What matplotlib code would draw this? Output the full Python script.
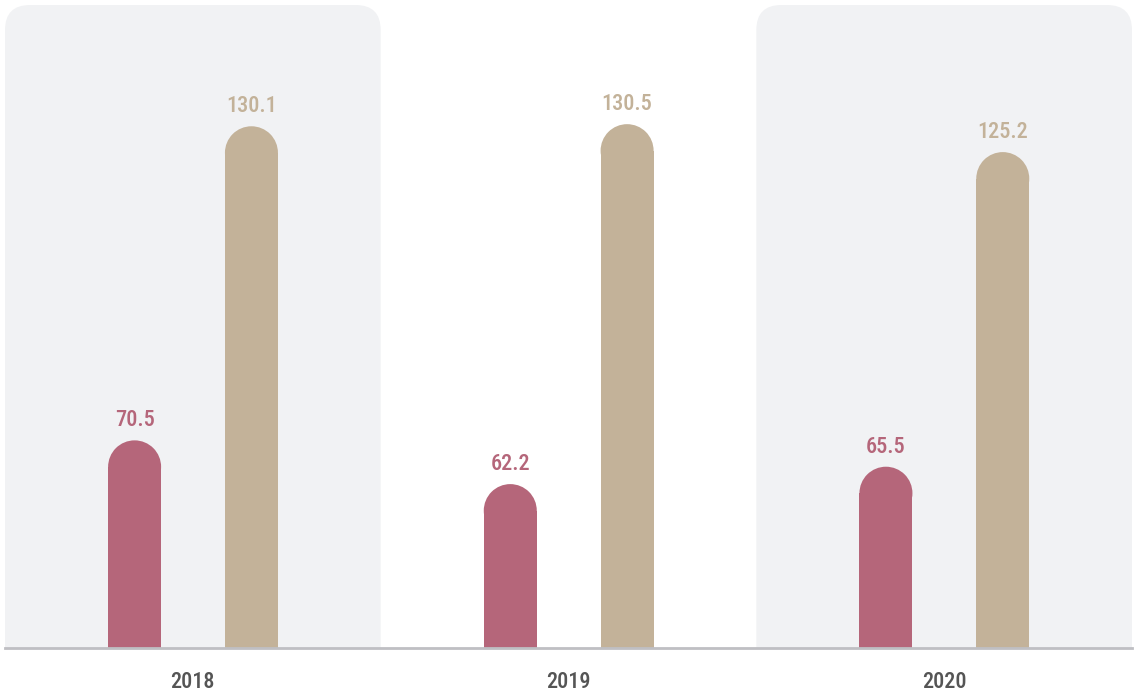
import matplotlib
matplotlib.use("Agg")
import matplotlib.pyplot as plt
import numpy as np
from matplotlib.patches import FancyBboxPatch, Ellipse

# data
years = ["2018", "2019", "2020"]
series_a = [70.5, 62.2, 65.5]
series_b = [130.1, 130.5, 125.2]

pink = "#B5667A"
tan = "#C3B299"
panel = "#F1F2F4"
fonts = ["Roboto Condensed", "DejaVu Sans"]

W, H = 1134, 697
fig = plt.figure(figsize=(W / 100, H / 100), dpi=100)
left, right, top, bottom = 5, 1132, 5, 648
ax = fig.add_axes([left / W, 1 - bottom / H, (right - left) / W, (bottom - top) / H])

y0 = min(series_a) / 2
px_per_unit = 5.27
y1 = y0 + (bottom - top) / px_per_unit
ax.set_xlim(0, 3)
ax.set_ylim(y0, y1)

xpx = (right - left) / 3.0          # pixels per x unit
aspect = (1 / px_per_unit) / (1 / xpx)

# shaded panels behind 2018 and 2020
for i in (0, 2):
    p = FancyBboxPatch((i, y0 - 30), 1, (y1 - y0) + 30,
                       boxstyle="round,pad=0,rounding_size=%f" % (25 / xpx),
                       mutation_aspect=aspect, fc=panel, ec="none", zorder=0)
    ax.add_patch(p)

bw = 53 / xpx
ry = (bw / 2) * xpx / px_per_unit   # cap radius in y units
xs = np.arange(3)
off_a, off_b = 0.345, 0.656

for vals, off, col in ((series_a, off_a, pink), (series_b, off_b, tan)):
    xc = xs + off
    ax.bar(xc, np.array(vals) - ry - y0, bottom=y0, width=bw, color=col,
           zorder=2, linewidth=0)
    for x, v in zip(xc, vals):
        ax.add_patch(Ellipse((x, v - ry), bw, 2 * ry, fc=col, ec="none", zorder=2))
        ax.text(x, v + 14 / px_per_unit, f"{v:.1f}", ha="center", va="baseline",
                color=col, fontsize=16, fontweight="medium",
                family=fonts, fontstretch="condensed")

ax.axhline(y0, color="#BFBFC3", lw=2, zorder=3, clip_on=False)

for i, yr in enumerate(years):
    ax.text(i + 0.5, y0 - 34 / px_per_unit, yr, ha="center", va="center",
            color="#555555", fontsize=16, fontweight="medium",
            family=fonts, fontstretch="condensed")

ax.axis("off")
fig.savefig("out.png", dpi=100)
